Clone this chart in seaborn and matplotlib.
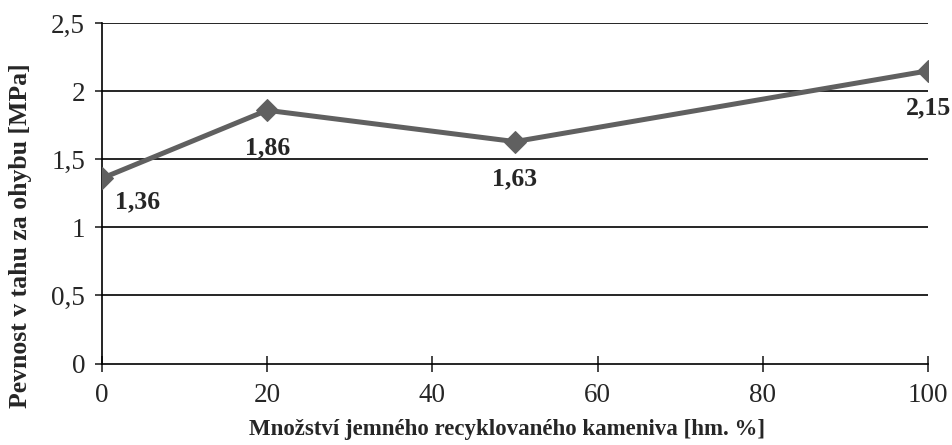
import matplotlib
matplotlib.use("Agg")
import matplotlib.pyplot as plt
import seaborn as sns
import pandas as pd
from matplotlib.ticker import FuncFormatter

x_vals = [0, 20, 50, 100]
y_vals = [1.36, 1.86, 1.63, 2.15]
point_labels = ["1,36", "1,86", "1,63", "2,15"]
x_ticks = [0, 20, 40, 60, 80, 100]
y_ticks = [0, 0.5, 1, 1.5, 2, 2.5]
x_title = "Množství jemného recyklovaného kameniva [hm. %]"
y_title = "Pevnost v tahu za ohybu [MPa]"

sns.set_style("white")
plt.rcParams['font.family'] = ['Liberation Serif', 'DejaVu Serif']

df = pd.DataFrame({"x": x_vals, "y": y_vals})

fig = plt.figure(figsize=(9.52, 4.45), dpi=100)
ax = fig.add_axes([0.107, 0.183, 0.868, 0.765])

for yt in y_ticks[1:]:
    ax.axhline(yt, color="black", lw=1.2, zorder=1)

sns.lineplot(data=df, x="x", y="y", ax=ax, color="#606060", lw=3.6,
             marker="D", markersize=11, markeredgecolor="#606060", zorder=3)

offsets = [(26, -17), (0, -27), (0, -27), (0, -27)]
for xv, yv, lab, off in zip(x_vals, y_vals, point_labels, offsets):
    ax.annotate(lab, (xv, yv), xytext=off, textcoords="offset points",
                ha="center", va="center", fontsize=18.5, fontweight="bold",
                annotation_clip=False)

ax.set_xlim(0, 100)
ax.set_ylim(0, 2.5)
ax.set_xticks(x_ticks)
ax.set_yticks(y_ticks)
fmt = FuncFormatter(lambda v, p: ("%g" % v).replace(".", ","))
ax.xaxis.set_major_formatter(fmt)
ax.yaxis.set_major_formatter(fmt)

for s in ["top", "right"]:
    ax.spines[s].set_visible(False)
for s in ["left", "bottom"]:
    ax.spines[s].set_color("black")
    ax.spines[s].set_linewidth(1.2)

ax.tick_params(axis="x", direction="inout", length=12, width=1.2, labelsize=19.5, pad=8, bottom=True)
ax.tick_params(axis="y", direction="out", length=5, width=1.2, labelsize=19.5, pad=7, left=True)

ax.set_xlabel(x_title, fontsize=16.5, fontweight="bold")
ax.set_ylabel(y_title, fontsize=18.5, fontweight="bold")
ax.xaxis.set_label_coords(0.49, -0.163)
ax.yaxis.set_label_coords(-0.085, 0.375)

fig.savefig("out.png", dpi=100)
